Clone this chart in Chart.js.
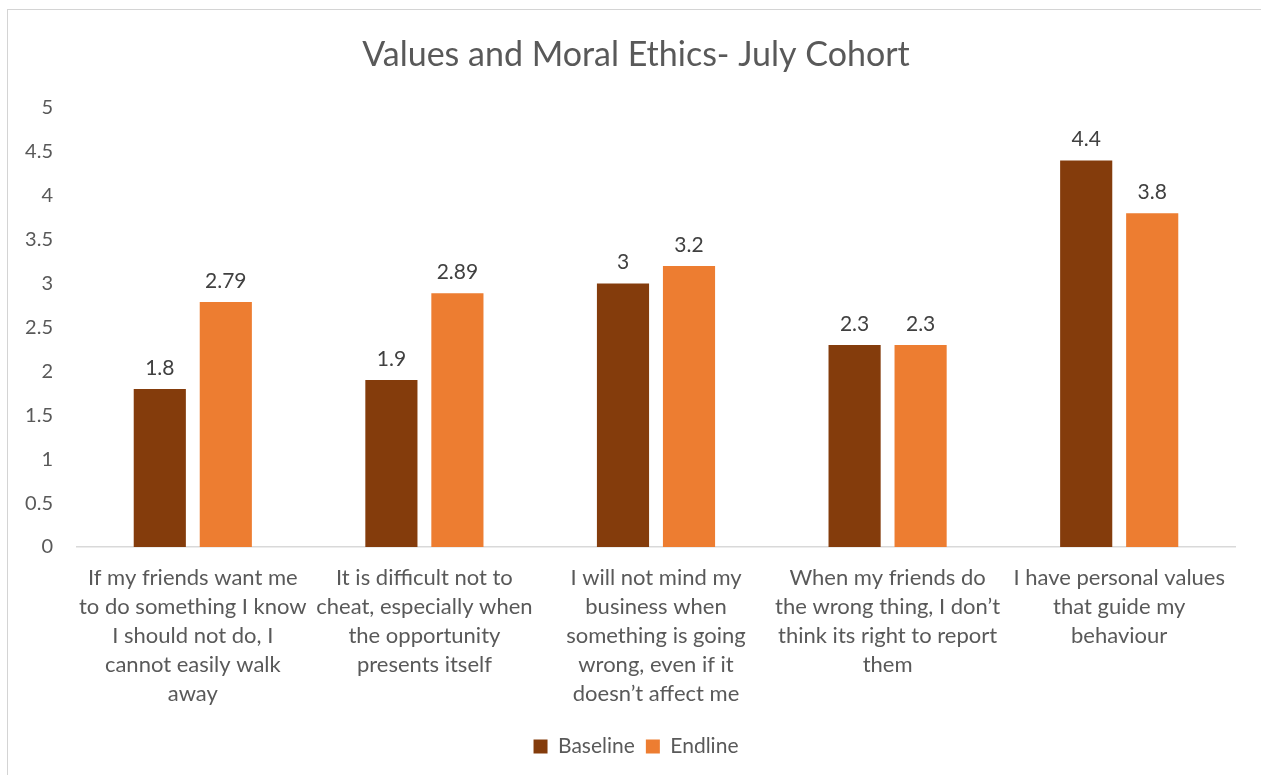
<!DOCTYPE html>
<html>
<head>
<meta charset="utf-8">
<script src="https://cdn.jsdelivr.net/npm/chart.js@4/dist/chart.umd.min.js"></script>
<style>
  html, body { margin: 0; padding: 0; background: #fff; overflow: hidden; }
  #wrap { position: relative; width: 1261px; height: 775px; }
  #frame { position: absolute; left: 7px; top: 9px; width: 1300px; height: 800px; border: 1px solid #d4d4d4; box-sizing: border-box; }
  canvas { position: absolute; left: 0; top: 0; }
</style>
</head>
<body>
<div id="wrap">
  <div id="frame"></div>
  <canvas id="c" width="1261" height="775"></canvas>
</div>
<script>
const chartTitle = "Values and Moral Ethics- July Cohort";
const categories = [
  ["If my friends want me", "to do something I know", "I should not do, I", "cannot easily walk", "away"],
  ["It is difficult not to", "cheat, especially when", "the opportunity", "presents itself"],
  ["I will not mind my", "business when", "something is going", "wrong, even if it", "doesn\u2019t affect me"],
  ["When my friends do", "the wrong thing, I don\u2019t", "think its right to report", "them"],
  ["I have personal values", "that guide my", "behaviour"]
];
const seriesNames = ["Baseline", "Endline"];
const baseline = [1.8, 1.9, 3, 2.3, 4.4];
const endline = [2.79, 2.89, 3.2, 2.3, 3.8];
const yTicks = [0, 0.5, 1, 1.5, 2, 2.5, 3, 3.5, 4, 4.5, 5];

const FONT = "Lato, 'Open Sans', sans-serif";
const TXT = "#595959";

const valueLabels = {
  id: "valueLabels",
  afterDatasetsDraw(chart) {
    const ctx = chart.ctx;
    ctx.save();
    ctx.font = "21px " + FONT;
    ctx.fillStyle = "#404040";
    ctx.textAlign = "center";
    ctx.textBaseline = "middle";
    chart.data.datasets.forEach((ds, i) => {
      const meta = chart.getDatasetMeta(i);
      meta.data.forEach((bar, j) => {
        ctx.fillText(String(ds.data[j]), bar.x, bar.y - 21);
      });
    });
    ctx.restore();
  }
};

new Chart(document.getElementById("c"), {
  type: "bar",
  data: {
    labels: categories,
    datasets: [
      { label: seriesNames[0], data: baseline, backgroundColor: "#843C0C", yAxisID: "y" },
      { label: seriesNames[1], data: endline, backgroundColor: "#ED7D31", yAxisID: "y" }
    ]
  },
  options: {
    responsive: false,
    animation: false,
    devicePixelRatio: 1,
    layout: { padding: { left: 20, right: 9, top: 0, bottom: 8 } },
    datasets: { bar: { categoryPercentage: 0.57, barPercentage: 0.79 } },
    plugins: {
      title: {
        display: true,
        text: chartTitle,
        color: TXT,
        font: { family: FONT, size: 34, weight: "normal", lineHeight: 1.2 },
        padding: { top: 35, bottom: 32 }
      },
      legend: {
        position: "bottom",
        labels: {
          color: TXT,
          font: { family: FONT, size: 21 },
          boxWidth: 14,
          boxHeight: 14,
          padding: 11
        }
      },
      tooltip: { enabled: false }
    },
    scales: {
      x: {
        grid: { display: false, drawTicks: false },
        border: { display: true, color: "#d9d9d9", width: 1.5 },
        ticks: {
          color: TXT,
          font: { family: FONT, size: 22, lineHeight: 1.32 },
          padding: 16,
          maxRotation: 0,
          autoSkip: false
        },
        afterFit(scale) { scale.height = 178; }
      },
      y: {
        position: "left",
        min: 0,
        max: 5,
        grid: { display: false, drawTicks: false },
        border: { display: false },
        afterBuildTicks(scale) { scale.ticks = yTicks.map(v => ({ value: v })); },
        ticks: {
          color: TXT,
          font: { family: FONT, size: 20 },
          padding: 24,
          callback: v => String(v)
        },
        afterFit(scale) { scale.width = 57; }
      },
      yRight: {
        position: "right",
        min: 0,
        max: 5,
        grid: { display: false, drawTicks: false },
        border: { display: false },
        ticks: { display: false },
        afterFit(scale) { scale.width = 17; }
      }
    }
  },
  plugins: [valueLabels]
});
</script>
</body>
</html>
